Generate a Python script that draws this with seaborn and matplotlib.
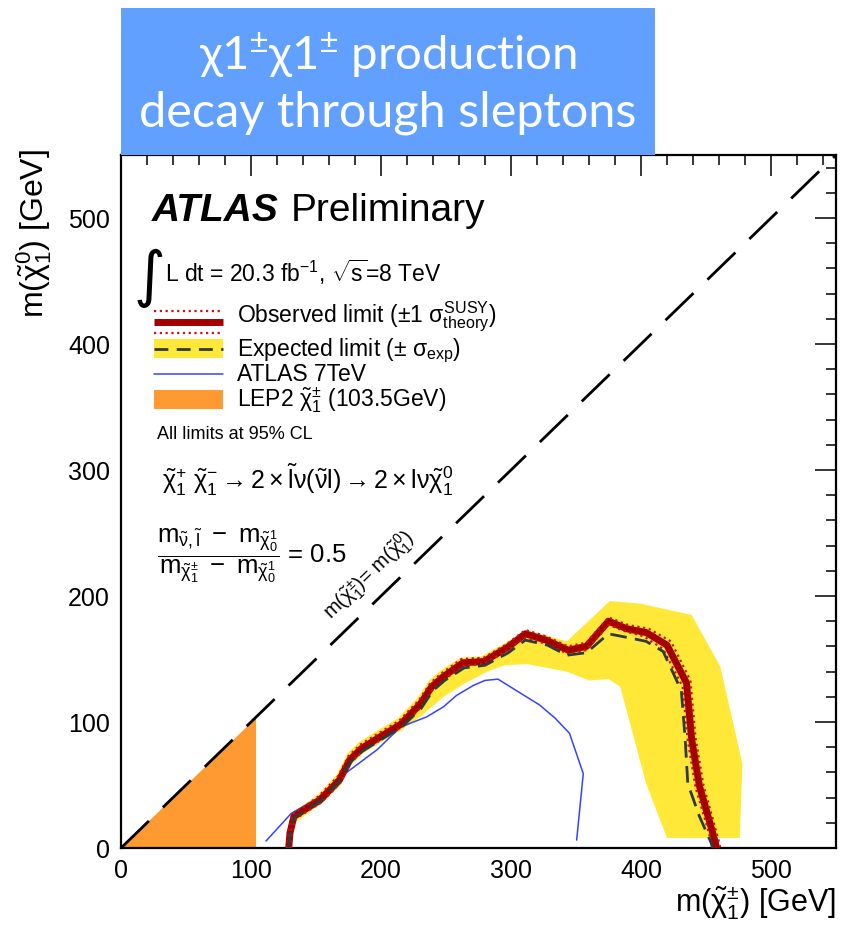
import numpy as np
import matplotlib
matplotlib.use("Agg")
import matplotlib.pyplot as plt
import seaborn as sns
from matplotlib.patches import Rectangle

# ---------------- data ----------------
obs_x = [129, 130, 133, 142, 153, 168, 176, 185, 199, 215, 230, 239, 248, 263, 279, 297, 311, 327, 344, 358, 375, 389, 404, 420, 435, 439, 445, 453, 457, 458]
obs_y = [0, 12, 25, 31, 38, 54, 70, 79, 88, 98, 114, 128, 136, 147, 148, 159, 170, 165, 157, 160, 180, 174, 171, 161, 131, 86, 49, 20, 5, 0]

obsu_x = [128, 129, 132, 141, 152, 167, 175, 184, 198, 214, 229, 238, 247, 262, 279, 297, 311, 327, 344, 358, 375, 390, 406, 423, 438, 442, 448, 456, 460, 461]
obsu_y = [0, 12, 27, 33, 41, 57, 73, 82, 91, 101, 117, 131, 139, 150, 151, 162, 173, 168, 160, 163, 183, 177, 174, 164, 133, 87, 50, 20, 5, 0]
obsd_x = [130, 131, 134, 143, 154, 169, 177, 186, 200, 216, 231, 240, 249, 264, 279, 297, 311, 327, 344, 358, 375, 388, 402, 417, 432, 436, 442, 450, 454, 455]
obsd_y = [0, 12, 23, 29, 36, 52, 68, 77, 86, 96, 112, 126, 134, 145, 146, 157, 167, 162, 154, 157, 177, 172, 168, 158, 128, 85, 48, 20, 5, 0]

exp_x = [129, 130, 133, 142, 153, 168, 176, 186, 200, 216, 231, 240, 249, 264, 280, 298, 311, 328, 343, 358, 375, 390, 404, 417, 431, 434, 436, 445, 454, 455]
exp_y = [0, 12, 24, 30, 37, 53, 68, 77, 86, 96, 111, 125, 133, 143, 145, 155, 165, 161, 153, 155, 170, 167, 164, 156, 125, 86, 51, 25, 4, 0]

band_out_x = [127, 128, 131, 140, 151, 166, 174, 183, 197, 213, 228, 237, 246, 261, 277, 296, 312, 343, 376, 399, 439, 461, 478, 476]
band_out_y = [7, 14, 28, 34, 42, 58, 75, 84, 93, 103, 119, 133, 141, 151, 152, 163, 173, 164, 196, 194, 185, 144, 67, 8]
band_in_x = [420, 404, 384, 375, 360, 343, 312, 295, 284, 265, 248, 230, 215, 200, 186, 177, 169, 154, 143, 134, 131]
band_in_y = [8, 51, 128, 134, 133, 140, 146, 145, 141, 131, 120, 104, 93, 84, 75, 66, 50, 35, 27, 20, 8]

atlas7_x = [111.5, 131, 150.5, 171, 197, 215, 235, 248, 258, 271, 280, 290, 304, 322, 334, 345, 355.6, 350.5]
atlas7_y = [5.5, 27.5, 39, 58, 78, 96, 104, 112, 121, 129, 133, 134, 125, 113.5, 103, 91, 59, 6.3]

lep_x = [0, 103.5, 103.5]
lep_y = [0, 0, 103.5]

diag_x = [0, 550]
diag_y = [0, 550]

ticks = [0, 100, 200, 300, 400, 500]
tick_labels = ["0", "100", "200", "300", "400", "500"]

# ---------------- style ----------------
sns.set_theme(style="white")
plt.rcParams["font.family"] = ["Liberation Sans", "DejaVu Sans"]
plt.rcParams["mathtext.fontset"] = "custom"
plt.rcParams["mathtext.rm"] = "Liberation Sans"
plt.rcParams["mathtext.it"] = "Liberation Sans"
plt.rcParams["mathtext.bf"] = "Liberation Sans:bold"
plt.rcParams["mathtext.sf"] = "Liberation Sans"
for k in ("text.color", "axes.labelcolor", "xtick.color", "ytick.color"):
    plt.rcParams[k] = "black"

RED = "#A50000"
DOTRED = "#CC1111"
DASH = "#2E3B3B"
YEL = "#FFE838"
ORANGE = "#FF9A33"
BLUE = "#3344FF"

fig = plt.figure(figsize=(8.49, 9.44), dpi=100)
ax = fig.add_axes([121/849, 1-848/944, 715/849, 693/944])

# banner
fig.patches.append(Rectangle((121/849, 1-155/944), (655-121)/849, (155-8)/944,
                             transform=fig.transFigure, facecolor="#62A0FF",
                             edgecolor="none", zorder=0))
fig.text(388/849, 1-55/944, r"χ1$^{\pm}$χ1$^{\pm}$ production", color="white",
         fontsize=34, ha="center", va="center", family=["Lato", "DejaVu Sans"])
fig.text(388/849, 1-113/944, "decay through sleptons", color="white",
         fontsize=35, ha="center", va="center", family=["Lato", "DejaVu Sans"])

# ---------------- marks ----------------
ax.fill(band_out_x + band_in_x, band_out_y + band_in_y, color=YEL, lw=0, zorder=1)
ax.fill(lep_x, lep_y, color=ORANGE, lw=0, zorder=1)

sns.lineplot(x=diag_x, y=diag_y, sort=False, estimator=None, color="black",
             lw=2.0, ax=ax, zorder=2)
ax.lines[-1].set_dashes([14, 7])

sns.lineplot(x=atlas7_x, y=atlas7_y, sort=False, estimator=None, color=BLUE,
             lw=1.1, ax=ax, zorder=3)
sns.lineplot(x=obs_x, y=obs_y, sort=False, estimator=None, color=RED,
             lw=5.0, ax=ax, zorder=4)
for xs, ys in ((obsu_x, obsu_y), (obsd_x, obsd_y)):
    sns.lineplot(x=xs, y=ys, sort=False, estimator=None, color=DOTRED,
                 lw=1.6, ax=ax, zorder=5)
    ax.lines[-1].set_dashes([1, 1.6])
sns.lineplot(x=exp_x, y=exp_y, sort=False, estimator=None, color=DASH,
             lw=2.0, ax=ax, zorder=6)
ax.lines[-1].set_dashes([6, 3])

# ---------------- axes ----------------
ax.set_xlim(0, 550)
ax.set_ylim(0, 550)
ax.set_xticks(ticks)
ax.set_xticklabels(tick_labels)
ax.set_yticks(ticks)
ax.set_yticklabels(tick_labels)
ax.set_xticks(np.arange(0, 551, 20), minor=True)
ax.set_yticks(np.arange(0, 551, 20), minor=True)
ax.tick_params(which="both", direction="in", top=True, right=True,
               labelsize=18, color="black", width=1.1)
ax.tick_params(which="major", length=15, pad=8)
ax.tick_params(which="minor", length=7.5)
for s in ax.spines.values():
    s.set_linewidth(1.6)
    s.set_color("black")

ax.set_xlabel(r"m($\tilde{\chi}_1^{\pm}$) [GeV]", fontsize=22, ha="right")
ax.xaxis.set_label_coords(1.0, -0.053)
ax.xaxis.label.set_va("top")
ax.set_ylabel(r"m($\tilde{\chi}_1^{0}$) [GeV]", fontsize=23, ha="right")
ax.yaxis.set_label_coords(-0.094, 1.008)

# ---------------- text ----------------
T = ax.transAxes
ax.text(0.043, 0.9185, "ATLAS", fontsize=28, fontweight="bold", style="italic",
        transform=T, va="center", ha="left")
ax.text(0.237, 0.9185, "Preliminary", fontsize=28, transform=T, va="center", ha="left")
ax.text(0.018, 0.822, "\u222B", fontsize=44, transform=T, va="center", ha="left",
        family=["DejaVu Sans"])
ax.text(0.062, 0.830, r"L dt = 20.3 fb$^{-1}$, $\sqrt{s}$=8 TeV", fontsize=16.5,
        transform=T, va="center", ha="left")

# legend (manual, in axes coordinates)
hx = [0.046, 0.143]
ax.plot(hx, [0.775, 0.775], transform=T, color=DOTRED, lw=1.6, dashes=[1, 1.6])
ax.plot(hx, [0.743, 0.743], transform=T, color=DOTRED, lw=1.6, dashes=[1, 1.6])
ax.plot(hx, [0.759, 0.759], transform=T, color=RED, lw=5.0, solid_capstyle="butt")
ax.add_patch(Rectangle((0.046, 0.707), 0.097, 0.027, transform=T, color=YEL, lw=0))
ax.plot(hx, [0.7205, 0.7205], transform=T, color=DASH, lw=2.0, dashes=[5, 3])
ax.plot(hx, [0.684, 0.684], transform=T, color=BLUE, lw=1.1)
ax.add_patch(Rectangle((0.046, 0.634), 0.097, 0.027, transform=T, color=ORANGE, lw=0))

lx = 0.162
ax.text(lx, 0.767, r"Observed limit ($\pm$1 $\sigma^{\mathrm{SUSY}}_{\mathrm{theory}}$)",
        fontsize=16.5, transform=T, va="center", ha="left")
ax.text(lx, 0.718, r"Expected limit ($\pm$ $\sigma_{\mathrm{exp}}$)",
        fontsize=16.5, transform=T, va="center", ha="left")
ax.text(lx, 0.683, "ATLAS 7TeV", fontsize=16.5, transform=T, va="center", ha="left")
ax.text(lx, 0.646, r"LEP2 $\tilde{\chi}_1^{\pm}$ (103.5GeV)", fontsize=16.5,
        transform=T, va="center", ha="left")
ax.text(0.050, 0.597, "All limits at 95% CL", fontsize=13, transform=T,
        va="center", ha="left")

ax.text(0.057, 0.531,
        r"$\tilde{\chi}_1^{+}\ \tilde{\chi}_1^{-} \rightarrow 2\times\tilde{l}\nu(\tilde{\nu}l) \rightarrow 2\times l\nu\tilde{\chi}_1^{0}$",
        fontsize=18, transform=T, va="center", ha="left")
ax.text(0.050, 0.422,
        r"$\dfrac{m_{\tilde{\nu},\tilde{l}}\ -\ m_{\tilde{\chi}_0^1}}{m_{\tilde{\chi}_1^{\pm}}\ -\ m_{\tilde{\chi}_0^1}}$ = 0.5",
        fontsize=18.5, transform=T, va="center", ha="left")

ax.text(191, 216, r"m($\tilde{\chi}_1^{\pm}$)= m($\tilde{\chi}_1^{0}$)", fontsize=14.5,
        rotation=44, rotation_mode="anchor", ha="center", va="center")

fig.savefig("out.png", dpi=100)
